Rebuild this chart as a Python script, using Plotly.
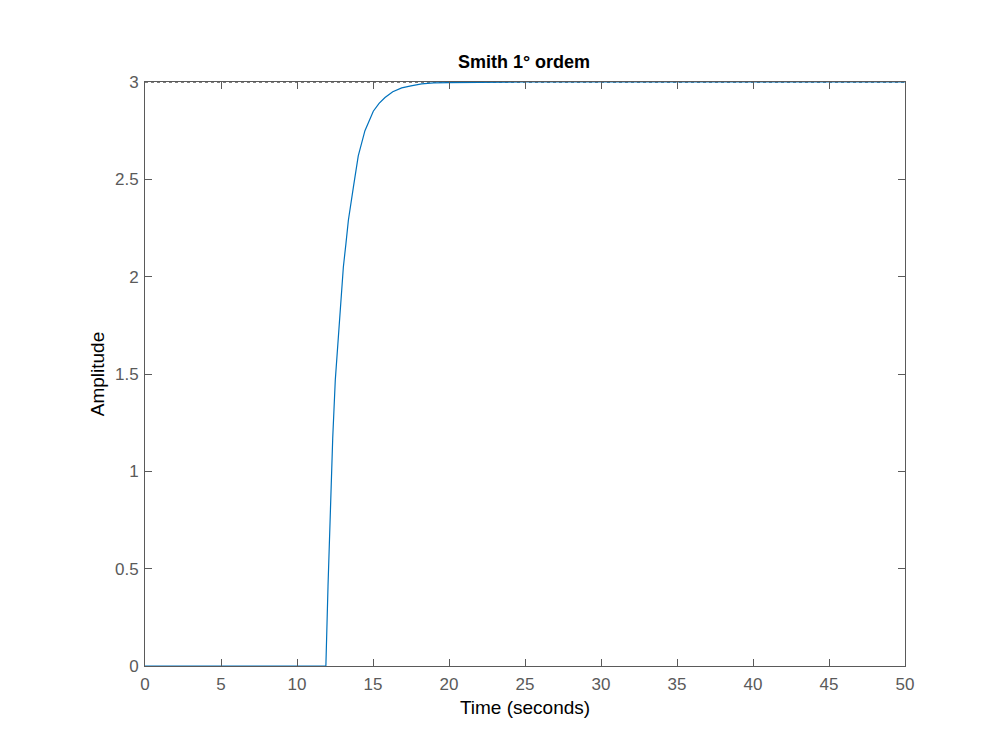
import plotly.graph_objects as go

# step response (time in seconds, amplitude)
time_s = [0, 11.9, 12.04, 12.19, 12.35, 12.52, 12.70, 12.83, 13.05, 13.22,
          13.38, 13.71, 14.03, 14.47, 15.02, 15.4, 15.79, 16.3, 16.89, 17.5,
          18.2, 19, 20, 25, 50]
amplitude = [0, 0, 0.41, 0.82, 1.17, 1.47, 1.68, 1.81, 2.05, 2.17,
             2.29, 2.46, 2.62, 2.75, 2.85, 2.89, 2.92, 2.95, 2.97, 2.98,
             2.99, 2.995, 2.997, 3, 3]

# steady-state marker line
final_t = [0, 50]
final_y = [3, 3]

x_ticks = [0, 5, 10, 15, 20, 25, 30, 35, 40, 45, 50]
y_ticks = [0, 0.5, 1, 1.5, 2, 2.5, 3]

axis_grey = "#5a5a5a"
tick_font = dict(family="Liberation Sans, Arial", size=17, color="#5a5a5a")
label_font = dict(family="Liberation Sans, Arial", size=19, color="black")

fig = go.Figure()

fig.add_trace(go.Scatter(
    x=final_t, y=final_y, mode="lines",
    line=dict(color="black", width=1, dash="dot"),
    showlegend=False, hoverinfo="skip",
))

fig.add_trace(go.Scatter(
    x=time_s, y=amplitude, mode="lines",
    line=dict(color="#0072BD", width=1.2),
    showlegend=False,
))

# page body has an 8px margin, so shift everything up/left by 8
fig.update_layout(
    width=1000, height=750,
    paper_bgcolor="white", plot_bgcolor="white",
    margin=dict(l=137, r=103, t=74, b=92),
    title=dict(
        text="<b>Smith 1° ordem</b>",
        x=0.516, xanchor="center", y=0.929, yanchor="middle",
        font=dict(family="Liberation Sans, Arial", size=18, color="black"),
    ),
)

fig.update_xaxes(
    range=[0, 50], tickvals=x_ticks,
    showgrid=False, zeroline=False,
    showline=True, linecolor=axis_grey, linewidth=1, mirror="ticks",
    ticks="inside", ticklen=7, tickcolor=axis_grey,
    tickfont=tick_font, ticklabelstandoff=3,
    title=dict(text="Time (seconds)", standoff=7, font=label_font),
)

fig.update_yaxes(
    range=[0, 3], tickvals=y_ticks,
    showgrid=False, zeroline=False,
    showline=True, linecolor=axis_grey, linewidth=1, mirror="ticks",
    ticks="inside", ticklen=7, tickcolor=axis_grey,
    tickfont=tick_font, ticklabelstandoff=2,
    title=dict(text="Amplitude", standoff=5, font=label_font),
)

fig.write_html("out.html")
